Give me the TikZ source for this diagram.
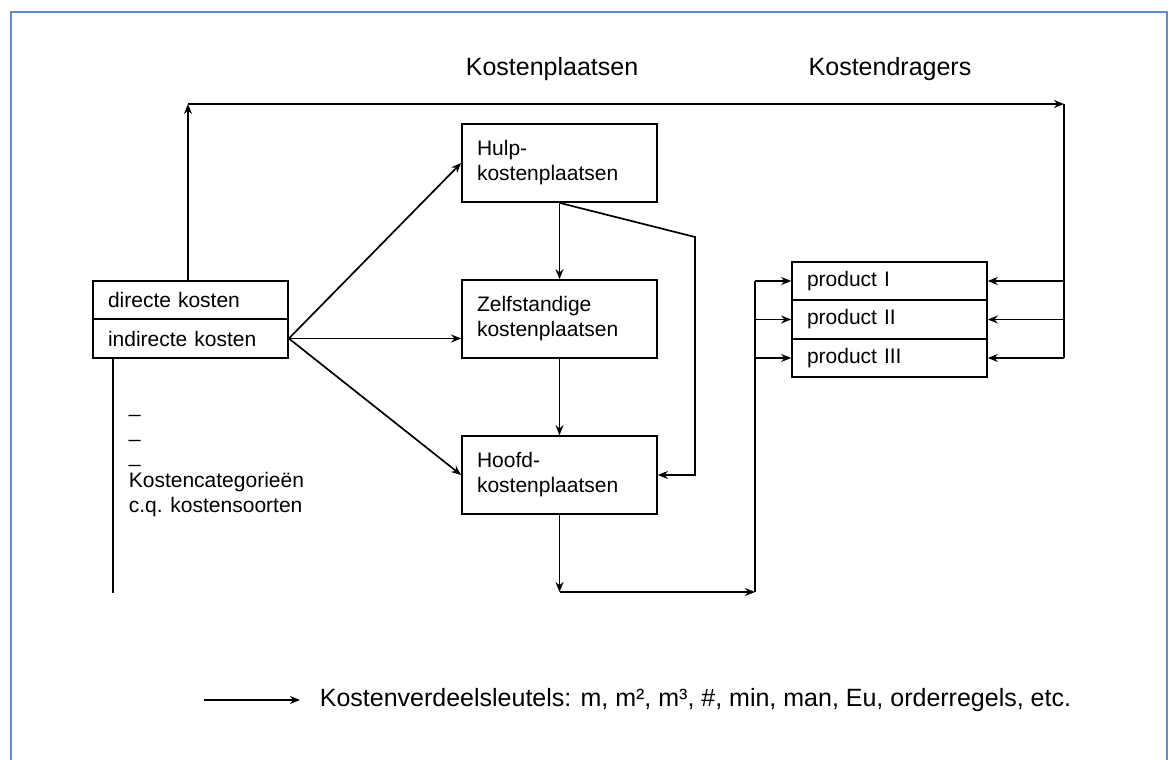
\documentclass[tikz,border=0pt]{standalone}
\usepackage{fontspec}
\setmainfont{Liberation Sans}
\usetikzlibrary{arrows.meta, positioning}
\definecolor{framblue}{RGB}{98,140,200}
\newcommand{\boxtxt}{\fontsize{21}{25}\selectfont}
\newcommand{\headtxt}{\fontsize{25}{30}\selectfont}

\begin{document}
\begin{tikzpicture}[x=1pt, y=-1pt, node distance=156pt, line width=1.7pt,
    >={Stealth[length=10pt,width=8pt]},
    box/.style={draw, rectangle, minimum width=195pt, text width=165pt, inner xsep=15pt, inner ysep=2pt, align=left, font=\boxtxt},
    big/.style={box, minimum height=78pt},
    row/.style={box, minimum height=38.5pt}]
\useasboundingbox (0,0) rectangle (1175,760);
\draw[framblue, line width=2.5pt] (11,770) -- (11,12) -- (1167,12) -- (1167,770);

\node[font=\headtxt] (kp) at (552,69) {Kostenplaatsen};
\node[font=\headtxt] (kd) at (890,69) {Kostendragers};

\node[big] (hulp) at (559.5,163) {Hulp-\\kostenplaatsen};
\node[big, below of=hulp] (zelf) {Zelfstandige\\kostenplaatsen};
\node[big, below of=zelf] (hoofd) {Hoofd-\\kostenplaatsen};

\node[row] (dk) at (190.5,300) {directe kosten};
\node[row, below=-1.7pt of dk] (ik) {indirecte kosten};

\node[row] (p1) at (889.5,281) {product I};
\node[row, below=-1.7pt of p1] (p2) {product II};
\node[row, below=-1.7pt of p2] (p3) {product III};

\node[font=\boxtxt, align=left, anchor=base west, inner sep=0pt] (cat) at (128,512)
    {\_\\\_\\\_\\Kostencategorieën\\c.q. kostensoorten};
\node[font=\headtxt, anchor=west, inner sep=0pt] (sleutels) at (319,700)
    {Kostenverdeelsleutels: m, m², m³, \#, min, man, Eu, orderregels, etc.};

\coordinate (tl) at (188,104);
\coordinate (tr) at (1064,104);
\coordinate (kink) at (695,237);
\coordinate (bl) at (559.5,592);
\coordinate (br) at (755,592);
\coordinate (catend) at (113,593);
\coordinate (leg) at (204,700);

\draw[->] (dk.north -| tl) -- (tl);
\draw[->] (tl) -- (tr);
\draw (tr) -- (tr |- p3.east);
\foreach \p in {p1,p2,p3}
    \draw[->] (tr |- \p.east) -- (\p.east);

\draw (ik.east) edge[->] (hulp.west) edge[->] (ik.east -| zelf.west) edge[->] (hoofd.west);
\draw[->] (hulp) -- (zelf);
\draw[->] (zelf) -- (hoofd);
\draw[->] (hulp.south) -- (kink) |- (hoofd.east);

\draw[->] (hoofd) -- (bl);
\draw[->] (bl) -- (br);
\draw (br) -- (br |- p1.west);
\foreach \p in {p1,p2,p3}
    \draw[->] (br |- \p.west) -- (\p.west);

\draw (ik.south -| catend) -- (catend);
\draw[->] (leg) -- ([xshift=-19pt]sleutels.west);
\end{tikzpicture}
\end{document}
